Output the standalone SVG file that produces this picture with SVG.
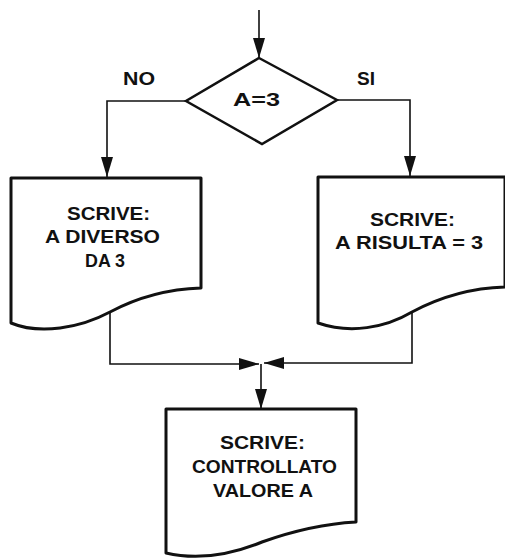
<svg xmlns="http://www.w3.org/2000/svg" width="505" height="560" viewBox="0 0 505 560">
  <style>
    .box { fill: #ffffff; stroke: #111; stroke-width: 3; stroke-linejoin: round; }
    .dec { fill: #ffffff; stroke: #111; stroke-width: 2.5; stroke-linejoin: miter; }
    .wire { fill: none; stroke: #111; stroke-width: 1.6; }
    .lbl { font-family: "Liberation Sans", Arial, sans-serif; font-weight: bold; font-size: 19px; fill: #111; }
  </style>
  <defs>
    <!-- long narrow flowchart arrowhead -->
    <marker id="arr" viewBox="0 0 20 12" refX="20" refY="6" markerWidth="20" markerHeight="12" markerUnits="userSpaceOnUse" orient="auto">
      <path d="M0,0 L20,6 L0,12 Z" fill="#111"/>
    </marker>
  </defs>

  <g id="connectors">
    <!-- entry arrow -->
    <line class="wire" x1="259" y1="10" x2="259" y2="58" marker-end="url(#arr)"/>
    <!-- NO branch -->
    <polyline class="wire" points="186,101 107,101 107,177" marker-end="url(#arr)"/>
    <!-- SI branch -->
    <polyline class="wire" points="337,100 410,100 410,176" marker-end="url(#arr)"/>
    <!-- merge from left -->
    <polyline class="wire" points="110,312 110,364 259,364" marker-end="url(#arr)"/>
    <!-- merge from right -->
    <polyline class="wire" points="412,312 412,363 264,363" marker-end="url(#arr)"/>
    <!-- to final output -->
    <line class="wire" x1="261" y1="364" x2="261" y2="409" marker-end="url(#arr)"/>
  </g>

  <g id="decision">
    <polygon class="dec" points="259,58 337,100 262,144 186,101"/>
    <text class="lbl" x="233" y="106" textLength="47" lengthAdjust="spacingAndGlyphs">A=3</text>
  </g>

  <g id="label-no">
    <text class="lbl" x="123" y="85" textLength="32" lengthAdjust="spacingAndGlyphs">NO</text>
  </g>
  <g id="label-si">
    <text class="lbl" x="357" y="85" textLength="18" lengthAdjust="spacingAndGlyphs">SI</text>
  </g>

  <g id="out-no">
    <path class="box" d="M11,178 L201,178 L201,288 C170,289 140,296 110,312 C80,328 40,335 11,323 Z"/>
    <text class="lbl" x="67" y="220" textLength="83" lengthAdjust="spacingAndGlyphs">SCRIVE:</text>
    <text class="lbl" x="45" y="243" textLength="115" lengthAdjust="spacingAndGlyphs">A DIVERSO</text>
    <text class="lbl" x="85" y="267" textLength="40" lengthAdjust="spacingAndGlyphs">DA 3</text>
  </g>

  <g id="out-si">
    <path class="box" d="M318,177 L505,177 L505,287 C470,288 440,297 412,312 C385,328 350,334 318,323 Z"/>
    <text class="lbl" x="370" y="226" textLength="85" lengthAdjust="spacingAndGlyphs">SCRIVE:</text>
    <text class="lbl" x="335" y="249" textLength="148" lengthAdjust="spacingAndGlyphs">A RISULTA = 3</text>
  </g>

  <g id="out-final">
    <path class="box" d="M166,409 L356,409 L356,522 C320,524 290,532 262,542 C235,553 200,561 166,553 Z"/>
    <text class="lbl" x="220" y="449" textLength="85" lengthAdjust="spacingAndGlyphs">SCRIVE:</text>
    <text class="lbl" x="192" y="473" textLength="145" lengthAdjust="spacingAndGlyphs">CONTROLLATO</text>
    <text class="lbl" x="213" y="497" textLength="100" lengthAdjust="spacingAndGlyphs">VALORE A</text>
  </g>
</svg>
